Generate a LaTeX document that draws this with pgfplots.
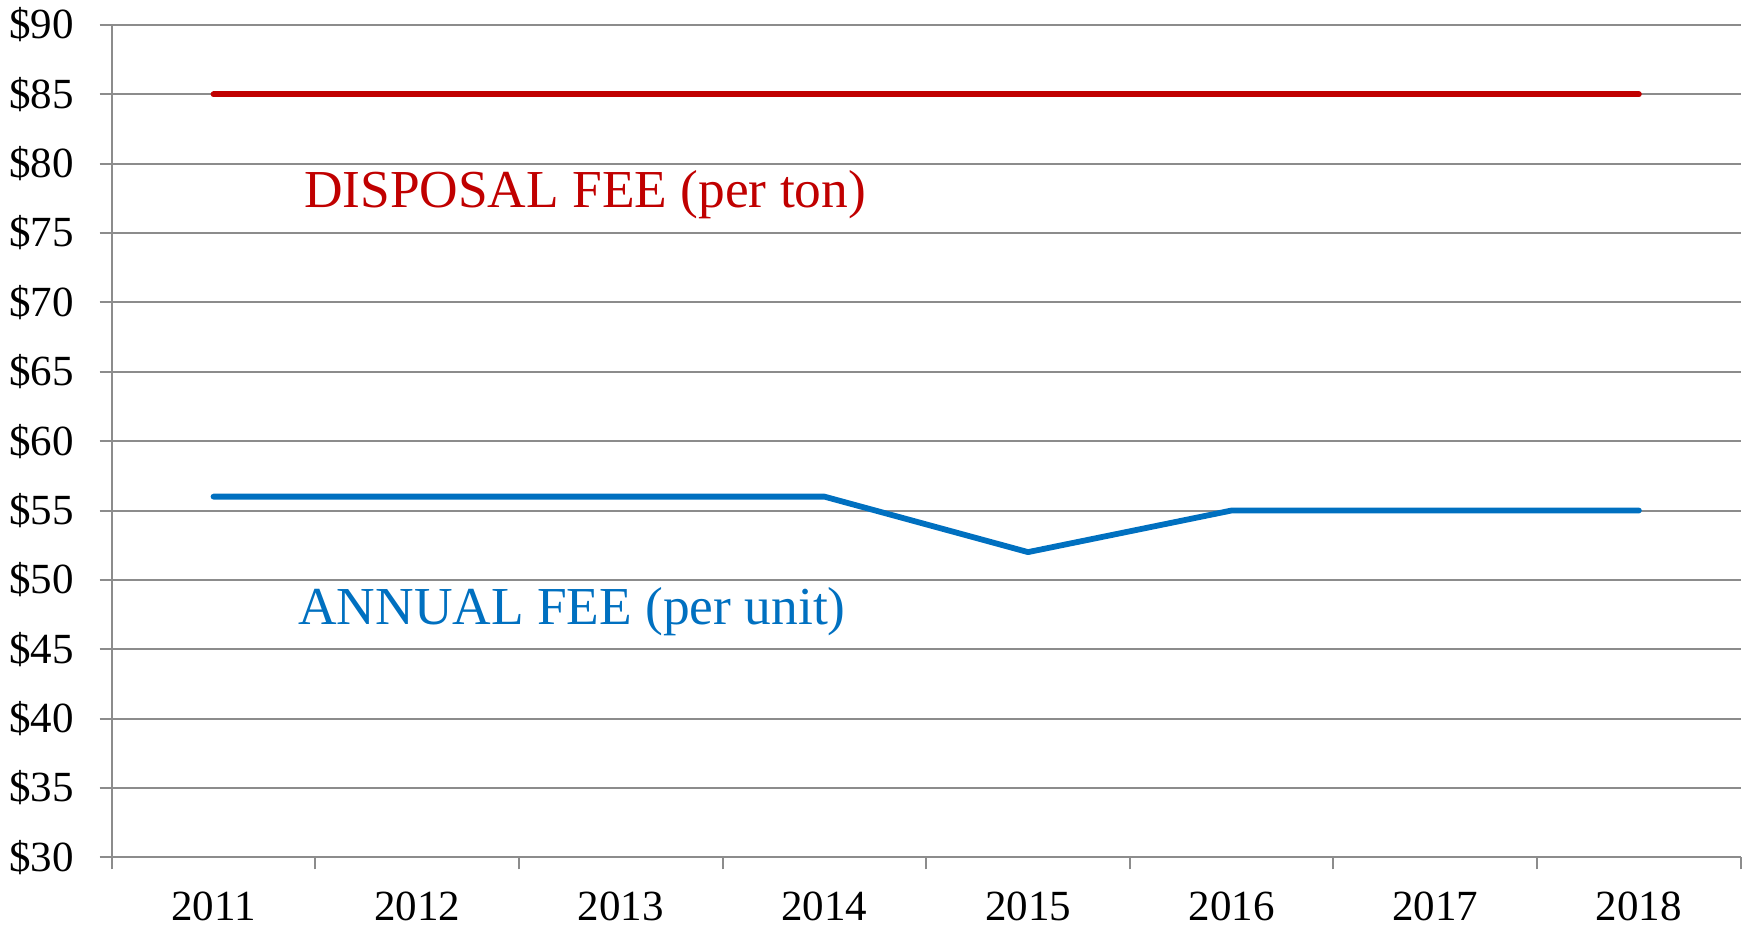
\documentclass[border=0pt]{standalone}
\usepackage{fontspec}
\setmainfont{Liberation Serif}
\usepackage{pgfplots}
\pgfplotsset{compat=1.18}
\definecolor{gridgray}{HTML}{8C8C8C}
\definecolor{feered}{HTML}{C00000}
\definecolor{feeblue}{HTML}{0070C0}
\begin{document}
\begin{tikzpicture}
\path[use as bounding box] (-55.85pt,-35.85pt) rectangle (819.15pt,428.65pt);
\begin{axis}[
  scale only axis, width=814.5pt, height=416.15pt,
  at={(0,0)}, anchor=south west,
  xmin=-0.5, xmax=7.5, ymin=30, ymax=90,
  axis x line*=bottom, axis y line*=left,
  axis line style={gridgray, line width=1pt},
  tick align=outside,
  major tick length=6pt, minor tick length=6pt,
  xtick={0,1,2,3,4,5,6,7},
  xticklabels={2011,2012,2013,2014,2015,2016,2017,2018},
  minor xtick={-0.5,0.5,1.5,2.5,3.5,4.5,5.5,6.5,7.5},
  every major x tick/.append style={draw=none},
  every minor x tick/.append style={gridgray, line width=1pt},
  every major y tick/.append style={gridgray, line width=1pt},
  ytick={30,35,40,45,50,55,60,65,70,75,80,85,90},
  yticklabels={\$30,\$35,\$40,\$45,\$50,\$55,\$60,\$65,\$70,\$75,\$80,\$85,\$90},
  ymajorgrids,
  major grid style={gridgray, line width=1pt},
  tick label style={font=\fontsize{21.5}{21.5}\selectfont, text=black},
  xticklabel style={anchor=north, inner sep=0pt, yshift=-11.2pt},
  yticklabel style={anchor=east, inner sep=0pt, xshift=-12.8pt},
  clip=false,
]
\addplot[feered, line width=2.9pt, line cap=round, line join=round] coordinates {
  (0,85) (1,85) (2,85) (3,85) (4,85) (5,85) (6,85) (7,85)
};
\addplot[feeblue, line width=2.9pt, line cap=round, line join=round] coordinates {
  (0,56) (1,56) (2,56) (3,56) (4,52) (5,55) (6,55) (7,55)
};
\node[anchor=base west, inner sep=0pt, text=feered, font=\fontsize{26.7}{26.7}\selectfont] at (axis cs:0.4425,76.82) {DISPOSAL FEE (per ton)};
\node[anchor=base west, inner sep=0pt, text=feeblue, font=\fontsize{26.7}{26.7}\selectfont] at (axis cs:0.415,46.75) {ANNUAL FEE (per unit)};
\end{axis}
\end{tikzpicture}
\end{document}
